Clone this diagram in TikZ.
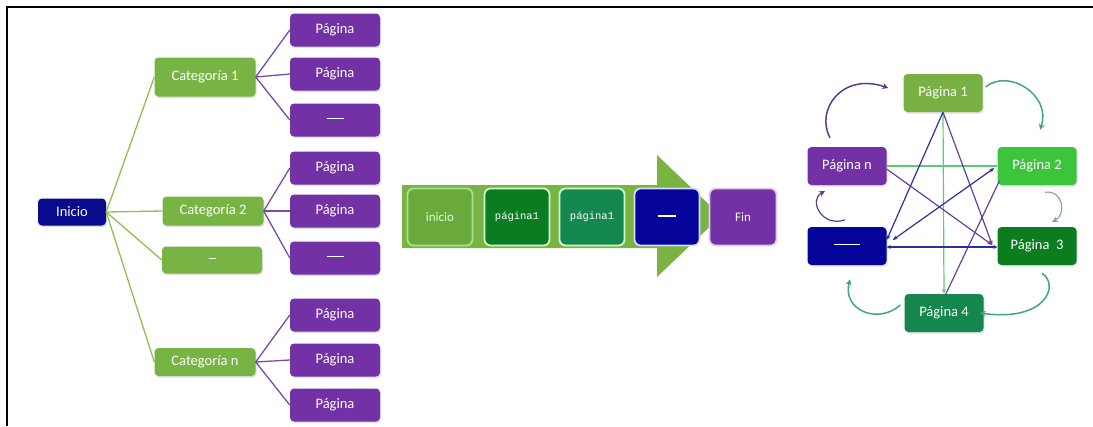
\documentclass[tikz,border=0pt]{standalone}
\usepackage{fontspec}
\setmainfont{Carlito}
\newfontfamily\monofam{Liberation Mono}
\usetikzlibrary{shadows,arrows.meta}

\definecolor{treegreen}{HTML}{77B443}
\definecolor{treeline}{HTML}{8CC05A}
\definecolor{pagepurple}{HTML}{7232A6}
\definecolor{pageline}{HTML}{7A4AA8}
\definecolor{startblue}{HTML}{0A0A8E}
\definecolor{bandgreen}{HTML}{79B342}
\definecolor{lightgreen}{HTML}{6AAA3C}
\definecolor{darkgreen}{HTML}{0A7D22}
\definecolor{midgreen}{HTML}{15884F}
\definecolor{deepblue}{HTML}{05059A}
\definecolor{olive}{HTML}{78B043}
\definecolor{brightgreen}{HTML}{3DC43D}
\definecolor{forest}{HTML}{0B7D1F}
\definecolor{teal}{HTML}{15864D}
\definecolor{linkblue}{HTML}{2E2E9E}
\definecolor{linkpurple}{HTML}{6A3EA0}
\definecolor{linkgreen}{HTML}{5ECB6E}
\definecolor{loopteal}{HTML}{3FA67E}
\definecolor{looppurple}{HTML}{5E3B8A}
\definecolor{loopgray}{HTML}{8AA59A}

% a white bar of given width, used as the placeholder label
\newcommand{\dashbar}[1]{\rule[0.35ex]{#1}{1.3pt}}

\begin{document}
\begin{tikzpicture}[x=1pt,y=-1pt,
  box/.style={rounded corners=4pt, inner sep=0pt, text=white, align=center,
    font=\fontsize{14.5}{16}\selectfont,
    drop shadow={shadow xshift=1pt, shadow yshift=-1.5pt, opacity=0.25}},
  leaf/.style={box, fill=pagepurple, minimum width=90pt, minimum height=33pt},
  cat/.style={box, fill=treegreen, minimum width=101pt},
  tile/.style={rounded corners=6pt, inner sep=0pt, text=white, line width=1.8pt,
    minimum width=65pt, minimum height=57pt, font=\fontsize{13}{15}\selectfont},
  cyc/.style={box, minimum width=79pt, minimum height=38pt},
  trunk/.style={treeline, line width=1.3pt},
  twig/.style={pageline, line width=1.3pt},
  link/.style={line width=1.2pt, -{Stealth[length=5pt,width=4pt]}},
  loop/.style={line width=1.5pt, -{Stealth[length=6pt,width=6pt]}}
]
\useasboundingbox (0,0) rectangle (1093,426);
\draw[line width=2pt] (7,426) -- (7,7) -- (1093,7);

% ---------- hierarchy ----------
\node[box, fill=startblue, minimum width=68pt, minimum height=27pt] (ini) at (72,212) {Inicio};
\node[cat, minimum height=39pt] (c1) at (205,77) {Categoría 1};
\node[cat, minimum height=29pt] (c2) at (213,211) {Categoría 2};
\node[cat, minimum height=27pt, minimum width=100pt] (cd) at (212,260) {\dashbar{7pt}};
\node[cat, minimum height=28pt] (cn) at (205,362) {Categoría n};

\node[leaf] (a1) at (335,30) {Página};
\node[leaf] (a2) at (335,74) {Página};
\node[leaf] (a3) at (335,120) {\dashbar{17pt}};
\node[leaf] (b1) at (335,168) {Página};
\node[leaf] (b2) at (335,211) {Página};
\node[leaf] (b3) at (335,258) {\dashbar{17pt}};
\node[leaf] (n1) at (335,315) {Página};
\node[leaf] (n2) at (335,360) {Página};
\node[leaf] (n3) at (335,405) {Página};

\foreach \c in {c1,c2,cd,cn} \draw[trunk] (ini.east) -- (\c.west);
\foreach \p in {a1,a2,a3} \draw[twig] (c1.east) -- (\p.west);
\foreach \p in {b1,b2,b3} \draw[twig] (c2.east) -- (\p.west);
\foreach \p in {n1,n2,n3} \draw[twig] (cn.east) -- (\p.west);

% ---------- sequence ----------
\fill[bandgreen] (402,185) -- (657,185) -- (657,155) -- (721,216) -- (657,277)
  -- (657,248) -- (402,248) -- cycle;
\node[tile, fill=lightgreen, draw=green!25!lightgreen!50!white, text=white!85!green] (s1) at (440,217) {inicio};
\node[tile, fill=darkgreen, draw=green!20!white, font=\monofam\fontsize{10.5}{12}\selectfont] (s2) at (517,217) {página1};
\node[tile, fill=midgreen, draw=green!20!white, font=\monofam\fontsize{10.5}{12}\selectfont] (s3) at (592,217) {página1};
\node[tile, fill=deepblue, draw=blue!15!white] (s4) at (667,217) {\dashbar{18pt}};
\node[tile, fill=pagepurple, draw=violet!20!white, minimum width=67pt] (s5) at (743,217) {Fin};

% ---------- cycle ----------
\node[cyc, fill=olive] (p1) at (943,93) {Página 1};
\node[cyc, fill=brightgreen] (p2) at (1037,166) {Página 2};
\node[cyc, fill=forest] (p3) at (1037,246) {Página~~3};
\node[cyc, fill=teal] (p4) at (944,313) {Página 4};
\node[cyc, fill=deepblue] (pb) at (847,246) {\dashbar{26pt}};
\node[cyc, fill=pagepurple] (pn) at (847,166) {Página n};

\draw[link, linkgreen, -] (pn.east) -- (p2.west);
\draw[link, linkgreen] (p1.south) -- (p4.north);
\draw[link, linkblue] (p1.south) -- ([shift={(0,-6)}]pb.east);
\draw[link, linkpurple] (p1.south) -- ([shift={(-5,-1)}]p3.west);
\draw[link, linkpurple] ([shift={(0,3)}]pn.east) -- ([shift={(-5,-1)}]p3.west);
\draw[link, linkblue, {Stealth[length=5pt,width=4pt]}-{Stealth[length=5pt,width=4pt]}]
  ([shift={(-3,2)}]p2.west) -- ([shift={(6,-6)}]pb.east);
\draw[line width=1.2pt, linkpurple] ([shift={(2,15)}]p2.west) -- ([shift={(1,2)}]p4.north);
\draw[link, linkblue, {Stealth[length=4pt,width=4pt]}-{Stealth[length=4pt,width=4pt]}]
  ([shift={(0,1)}]pb.east) -- ([shift={(0,1)}]p3.west);

% loops round the ring
\draw[loop, looppurple] ([shift={(-17,-9)}]pn.north) .. controls (815,110) and (842,72) .. ([shift={(-15,-5)}]p1.west);
\draw[loop, loopteal] ([shift={(3,-6)}]p1.east) .. controls (1008,68) and (1052,95) .. ([shift={(3,-17)}]p2.north);
\draw[loop, loopgray, line width=1.2pt] ([shift={(8,7)}]p2.south) .. controls (1064,190) and (1066,215) .. ([shift={(15,-5)}]p3.north);
\draw[loop, loopteal] ([shift={(5,8)}]p3.south) .. controls (1060,285) and (1046,322) .. ([shift={(-4,0)}]p4.east);
\draw[loop, loopteal] ([shift={(-4,-8)}]p4.west) .. controls (878,325) and (842,310) .. ([shift={(3,14)}]pb.south);
\draw[loop, looppurple, line width=1.2pt] ([shift={(-2,-7)}]pb.north) .. controls (822,228) and (808,200) .. ([shift={(-22,6)}]pn.south);
\end{tikzpicture}
\end{document}
